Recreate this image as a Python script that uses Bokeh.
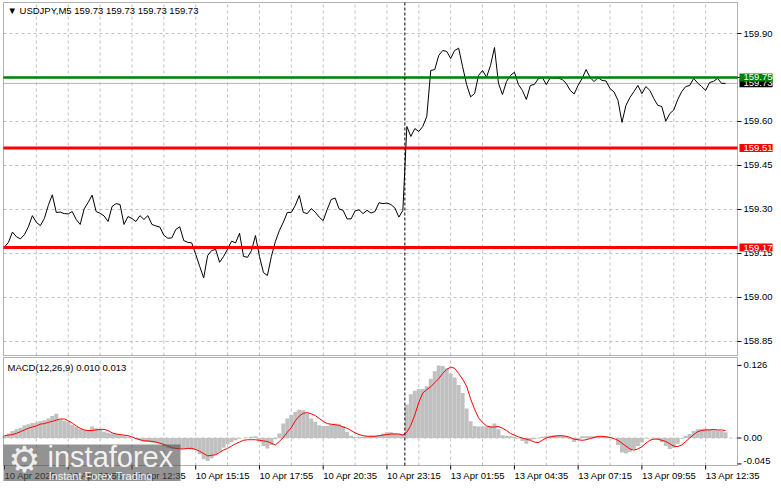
import numpy as np
from bokeh.plotting import figure
from bokeh.layouts import column
from bokeh.models import Range1d, Label, BoxAnnotation
from bokeh.core.properties import value
from bokeh.embed import file_html
from bokeh.resources import INLINE

# ---------------- data ----------------
symbol_title = "\u25bc USDJPY,M5  159.73 159.73 159.73 159.73"
macd_title = "MACD(12,26,9) 0.010 0.013"
bar_step = 2  # each stored value = close of every 2nd M5 bar

close = [
    159.172, 159.188, 159.223, 159.207, 159.200, 159.214, 159.241, 159.279, 159.256, 159.245,
    159.269, 159.314, 159.350, 159.290, 159.291, 159.286, 159.285, 159.293, 159.266, 159.249,
    159.302, 159.324, 159.349, 159.293, 159.287, 159.278, 159.259, 159.310, 159.320, 159.317,
    159.249, 159.276, 159.269, 159.259, 159.279, 159.266, 159.279, 159.249, 159.244, 159.240,
    159.212, 159.202, 159.203, 159.232, 159.241, 159.194, 159.188, 159.186, 159.147, 159.106,
    159.067, 159.143, 159.160, 159.164, 159.120, 159.140, 159.165, 159.192, 159.186, 159.219,
    159.140, 159.137, 159.160, 159.211, 159.140, 159.085, 159.075, 159.140, 159.191, 159.228,
    159.257, 159.290, 159.290, 159.314, 159.348, 159.290, 159.286, 159.303, 159.291, 159.274,
    159.262, 159.300, 159.334, 159.339, 159.302, 159.297, 159.268, 159.268, 159.295, 159.299,
    159.286, 159.297, 159.288, 159.293, 159.323, 159.320, 159.322, 159.317, 159.305, 159.274,
    159.297, 159.583, 159.549, 159.576, 159.566, 159.583, 159.617, 159.774, 159.777, 159.825,
    159.842, 159.839, 159.815, 159.842, 159.850, 159.787, 159.726, 159.684, 159.695, 159.757,
    159.774, 159.751, 159.791, 159.852, 159.730, 159.692, 159.736, 159.757, 159.768, 159.726,
    159.706, 159.675, 159.723, 159.726, 159.746, 159.750, 159.726, 159.749, 159.748, 159.748,
    159.743, 159.730, 159.706, 159.694, 159.723, 159.747, 159.777, 159.750, 159.736, 159.750,
    159.740, 159.738, 159.712, 159.701, 159.672, 159.597, 159.655, 159.682, 159.702, 159.723,
    159.695, 159.719, 159.706, 159.678, 159.655, 159.651, 159.601, 159.627, 159.639, 159.675,
    159.702, 159.719, 159.723, 159.747, 159.731, 159.719, 159.706, 159.733, 159.737, 159.747,
    159.730, 159.730,
]

macd_main = [
    0.004, 0.008, 0.012, 0.015, 0.018, 0.022, 0.024, 0.026, 0.027, 0.029,
    0.031, 0.034, 0.038, 0.042, 0.032, 0.030, 0.028, 0.023, 0.019, 0.016,
    0.014, 0.013, 0.020, 0.017, 0.014, 0.011, 0.009, 0.008, 0.007, 0.005,
    0.004, 0.002, 0.000, -0.002, -0.004, -0.006, -0.007, -0.008, -0.009, -0.010,
    -0.014, -0.017, -0.018, -0.019, -0.019, -0.019, -0.019, -0.020, -0.021, -0.028,
    -0.037, -0.040, -0.035, -0.029, -0.024, -0.017, -0.011, -0.007, -0.004, -0.001,
    0.000, 0.001, 0.002, 0.003, -0.006, -0.014, -0.018, -0.012, -0.002, 0.008,
    0.025, 0.034, 0.040, 0.045, 0.049, 0.048, 0.042, 0.034, 0.028, 0.022,
    0.021, 0.021, 0.024, 0.025, 0.024, 0.021, 0.011, 0.004, 0.002, 0.002,
    0.002, 0.003, 0.004, 0.004, 0.005, 0.008, 0.010, 0.010, 0.008, 0.007,
    0.007, 0.058, 0.076, 0.082, 0.085, 0.085, 0.090, 0.103, 0.116, 0.126,
    0.125, 0.121, 0.112, 0.105, 0.092, 0.078, 0.051, 0.029, 0.021, 0.020,
    0.020, 0.020, 0.021, 0.025, 0.015, 0.005, 0.004, 0.003, 0.002, -0.001,
    -0.005, -0.010, -0.004, -0.002, 0.000, 0.002, 0.003, 0.004, 0.005, 0.005,
    0.004, 0.003, -0.002, -0.007, -0.002, 0.003, 0.003, 0.003, 0.003, 0.003,
    0.003, 0.003, 0.002, 0.000, -0.012, -0.025, -0.027, -0.024, -0.019, -0.014,
    -0.008, -0.001, -0.001, -0.001, -0.002, -0.007, -0.014, -0.019, -0.017, -0.010,
    -0.001, 0.004, 0.007, 0.012, 0.015, 0.016, 0.016, 0.015, 0.014, 0.013,
    0.012, 0.010,
]

macd_signal = [
    0.004, 0.005, 0.006, 0.008, 0.011, 0.014, 0.017, 0.019, 0.021, 0.024,
    0.025, 0.027, 0.029, 0.031, 0.033, 0.033, 0.030, 0.026, 0.021, 0.017,
    0.014, 0.013, 0.013, 0.014, 0.015, 0.015, 0.013, 0.009, 0.007, 0.006,
    0.005, 0.004, 0.002, -0.001, -0.003, -0.005, -0.005, -0.006, -0.007, -0.009,
    -0.011, -0.014, -0.017, -0.018, -0.019, -0.019, -0.018, -0.018, -0.020, -0.023,
    -0.027, -0.031, -0.030, -0.029, -0.025, -0.021, -0.018, -0.014, -0.010, -0.007,
    -0.004, -0.003, -0.003, -0.003, -0.004, -0.005, -0.006, -0.009, -0.012, -0.006,
    0.001, 0.010, 0.018, 0.030, 0.038, 0.043, 0.044, 0.042, 0.039, 0.034,
    0.029, 0.025, 0.024, 0.023, 0.022, 0.019, 0.017, 0.013, 0.009, 0.006,
    0.004, 0.003, 0.003, 0.003, 0.004, 0.005, 0.006, 0.007, 0.007, 0.007,
    0.005, 0.010, 0.022, 0.040, 0.062, 0.078, 0.084, 0.089, 0.096, 0.103,
    0.112, 0.119, 0.123, 0.121, 0.112, 0.102, 0.090, 0.068, 0.050, 0.035,
    0.027, 0.021, 0.019, 0.019, 0.020, 0.017, 0.013, 0.008, 0.005, 0.002,
    0.000, -0.002, -0.004, -0.007, -0.008, -0.004, 0.000, 0.002, 0.003, 0.004,
    0.004, 0.003, 0.001, -0.002, -0.003, -0.004, -0.003, -0.001, 0.001, 0.003,
    0.003, 0.002, 0.001, -0.001, -0.004, -0.009, -0.014, -0.019, -0.021, -0.019,
    -0.015, -0.009, -0.004, -0.002, -0.002, -0.004, -0.006, -0.010, -0.014, -0.015,
    -0.012, -0.006, 0.000, 0.006, 0.011, 0.013, 0.014, 0.014, 0.015, 0.014,
    0.014, 0.013,
]

time_tick_bars = [0, 32, 64, 96, 128, 160, 192, 224, 256, 288, 320, 352]
time_tick_labels = ["10 Apr 2025", "10 Apr 09:55", "10 Apr 12:35", "10 Apr 15:15",
                    "10 Apr 17:55", "10 Apr 20:35", "10 Apr 23:15", "13 Apr 01:55",
                    "13 Apr 04:35", "13 Apr 07:15", "13 Apr 09:55", "13 Apr 12:35"]
price_ticks = [158.85, 159.00, 159.15, 159.30, 159.45, 159.60, 159.75, 159.90]
macd_ticks = [-0.045, 0.0, 0.126]
macd_tick_labels = ["-0.045", "0.00", "0.126"]
level_prices = [159.75, 159.51, 159.17]
level_colors = ["#008000", "#ff0000", "#ff0000"]
last_price = 159.73
session_bar = 201

bars = np.arange(len(close)) * bar_step

# ---------------- layout (pixel geometry of the panels) ----------------
FONT = "Liberation Sans"
FS = "9.5px"
GRID = "#c0c0c0"
W = 773
H_MAIN, H_MACD = 356, 125
PL, PR = 3, 737               # panel left/right pixels
X0, X1 = -0.5, 368            # bar range spanned by the panels
P_TOP, P_BOT = 2, 355         # main panel pixels
P_HI, P_LO = 160.0057, 158.8022
M_TOP, M_BOT = 357, 465       # MACD panel pixels (page coords)
M_HI, M_LO = 0.1397, -0.0477

px_x = (PR - PL) / (X1 - X0)
px_p = (P_BOT - P_TOP) / (P_HI - P_LO)
px_m = (M_BOT - M_TOP) / (M_HI - M_LO)


def gx(px):
    return X0 + (px - PL) / px_x


def gp(py):
    return P_HI - (py - P_TOP) / px_p


def gm(py):
    return M_HI - (py - M_TOP) / px_m


def make_fig(height, y0, y1):
    f = figure(width=W, height=height, x_range=Range1d(gx(0), gx(W)), y_range=Range1d(y0, y1),
               x_axis_location=None, y_axis_location=None, toolbar_location=None,
               output_backend="svg", min_border=0, min_border_left=0, min_border_right=0,
               min_border_top=0, min_border_bottom=0, outline_line_color=None,
               background_fill_color="white", border_fill_color="white")
    f.grid.visible = False
    return f


vgrid = list(range(16, 368, 16))

# ---------------- main price panel ----------------
p1 = make_fig(H_MAIN, gp(H_MAIN), gp(0))
p1.segment(x0=[X0] * len(price_ticks), x1=[X1] * len(price_ticks), y0=price_ticks, y1=price_ticks,
           line_color=GRID, line_dash="3 3", line_width=1)
p1.segment(x0=vgrid, x1=vgrid, y0=[P_LO] * len(vgrid), y1=[P_HI] * len(vgrid),
           line_color=GRID, line_dash="3 3", line_width=1)

p1.segment(x0=[X0], x1=[X1], y0=[last_price], y1=[last_price], line_color="#b4b4b4", line_width=1)
p1.line(bars, close, line_color="black", line_width=1)
p1.segment(x0=[X0] * 3, x1=[X1] * 3, y0=level_prices, y1=level_prices,
           line_color=level_colors, line_width=[2.5, 3, 3])
p1.segment(x0=[session_bar], x1=[session_bar], y0=[P_LO], y1=[P_HI],
           line_color="black", line_dash="3 2", line_width=1)

# right price scale
p1.segment(x0=[X1] * len(price_ticks), x1=[gx(PR + 4)] * len(price_ticks),
           y0=price_ticks, y1=price_ticks, line_color="black", line_width=1)
p1.text(x=[gx(PR + 6)] * len(price_ticks), y=price_ticks, text=[f"{t:.2f}" for t in price_ticks],
        text_font=value(FONT), text_font_size=FS, text_color="black",
        text_align="left", text_baseline="middle")
p1.add_layout(BoxAnnotation(left=X0, right=X1, bottom=P_LO, top=P_HI, fill_color=None,
                            line_color="black", line_width=1))

lab_x = gx(PR + 2)
pad = dict(left=4, right=0, top=1, bottom=1)
p1.add_layout(Label(x=lab_x, y=last_price, text=f"{last_price:.2f}", text_color="white",
                    background_fill_color="black", text_baseline="middle", text_align="left",
                    text_font=FONT, text_font_size=FS, padding=pad))
for lv, col in zip(level_prices, level_colors):
    p1.add_layout(Label(x=lab_x, y=lv, text=f"{lv:.2f}", text_color="white",
                        background_fill_color=col, text_baseline="middle", text_align="left",
                        text_font=FONT, text_font_size=FS, padding=pad))

p1.add_layout(Label(x=gx(7), y=gp(10), text=symbol_title, text_font=FONT, text_font_size=FS,
                    text_color="black", text_baseline="middle", text_align="left"))

# ---------------- MACD panel ----------------
p2 = make_fig(H_MACD, gm(H_MAIN + H_MACD), gm(H_MAIN))
p2.segment(x0=vgrid, x1=vgrid, y0=[M_LO] * len(vgrid), y1=[M_HI] * len(vgrid),
           line_color=GRID, line_dash="3 3", line_width=1)
p2.segment(x0=[X0], x1=[X1], y0=[0.0], y1=[0.0], line_color=GRID, line_dash="3 3", line_width=1)

p2.vbar(x=bars, width=bar_step, top=macd_main, bottom=0, fill_color="#c0c0c0", line_color=None)
p2.line(bars, macd_signal, line_color="red", line_width=1)
p2.segment(x0=[session_bar], x1=[session_bar], y0=[M_LO], y1=[M_HI],
           line_color="black", line_dash="3 2", line_width=1)

# right MACD scale (end labels kept inside the panel like the terminal does)
p2.segment(x0=[X1] * 3, x1=[gx(PR + 4)] * 3, y0=macd_ticks, y1=macd_ticks,
           line_color="black", line_width=1)
macd_label_y = [min(max(t, gm(M_BOT - 5)), gm(M_TOP + 7)) for t in macd_ticks]
p2.text(x=[gx(PR + 6)] * 3, y=macd_label_y, text=macd_tick_labels,
        text_font=value(FONT), text_font_size=FS, text_color="black",
        text_align="left", text_baseline="middle")

# time scale
p2.segment(x0=time_tick_bars, x1=time_tick_bars, y0=[M_LO] * len(time_tick_bars),
           y1=[gm(M_BOT + 4)] * len(time_tick_bars), line_color="black", line_width=1)
p2.text(x=time_tick_bars, y=[gm(M_BOT + 9.5)] * len(time_tick_bars), text=time_tick_labels,
        text_font=value(FONT), text_font_size=FS, text_color="black",
        text_align="left", text_baseline="middle")

p2.add_layout(BoxAnnotation(left=X0, right=X1, bottom=M_LO, top=M_HI, fill_color=None,
                            line_color="black", line_width=1))
p2.add_layout(Label(x=gx(7), y=gm(M_TOP + 10), text=macd_title, text_font=FONT,
                    text_font_size=FS, text_color="black", text_baseline="middle",
                    text_align="left"))

# watermark
p2.add_layout(BoxAnnotation(left=gx(PL), right=gx(180), top=gm(444), bottom=gm(H_MAIN + H_MACD),
                            fill_color="#505050", fill_alpha=0.62, line_color=None))
p2.add_layout(Label(x=gx(24), y=gm(459), text="\u2699", text_font="DejaVu Sans",
                    text_font_size="36px", text_color="white", text_alpha=0.85,
                    text_align="center", text_baseline="middle"))
p2.add_layout(Label(x=gx(47), y=gm(456), text="instaforex", text_font=FONT,
                    text_font_size="29px", text_color="white", text_alpha=0.9,
                    text_align="left", text_baseline="middle"))
p2.add_layout(Label(x=gx(48), y=gm(475), text="Instant Forex Trading", text_font=FONT,
                    text_font_size="11px", text_color="white", text_alpha=0.9,
                    text_align="left", text_baseline="middle"))

layout = column(p1, p2, spacing=0)
open("out.html", "w").write(file_html(layout, INLINE))
